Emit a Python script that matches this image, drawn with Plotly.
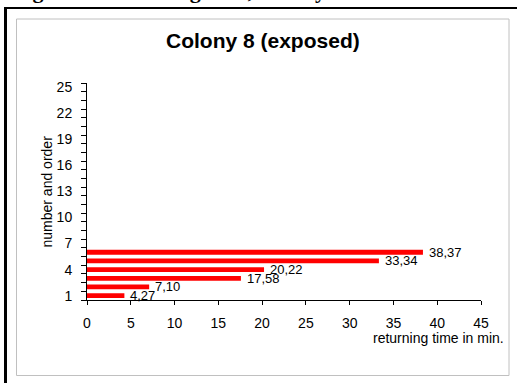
import plotly.graph_objects as go

# Returning time per bee (in order of return), Colony 8, exposed group
order = [1, 2, 3, 4, 5, 6]
minutes = [4.27, 7.10, 17.58, 20.22, 33.34, 38.37]
x_ticks = [0, 5, 10, 15, 20, 25, 30, 35, 40, 45]
y_ticks = [1, 4, 7, 10, 13, 16, 19, 22, 25]

labels = [f"{v:.2f}".replace(".", ",") for v in minutes]

W, H = 517, 383
L, R, T, B = 87, 481, 83, 300  # plot area in pixels


def px(x):
    return (x - L) / (R - L)


def py(y):
    return (B - y) / (B - T)


font = "Liberation Sans, Arial, sans-serif"

fig = go.Figure(
    go.Bar(
        x=minutes,
        y=order,
        orientation="h",
        width=0.55,
        marker=dict(color="#ff0000", line=dict(width=0)),
        hoverinfo="x+y",
    )
)

fig.update_layout(
    width=W,
    height=H,
    margin=dict(l=L, r=W - R, t=T, b=H - B, pad=0),
    paper_bgcolor="white",
    plot_bgcolor="white",
    showlegend=False,
    font=dict(family=font, color="black"),
    xaxis=dict(
        range=[0, 45],
        tickvals=x_ticks,
        ticks="outside",
        ticklen=4,
        tickcolor="black",
        showline=True,
        linecolor="black",
        linewidth=1,
        showgrid=False,
        zeroline=False,
        tickfont=dict(size=14, family=font),
        ticklabelstandoff=6,
    ),
    yaxis=dict(
        range=[0.5, 25.5],
        tickvals=y_ticks,
        ticks="outside",
        ticklen=5,
        tickcolor="rgba(0,0,0,0)",
        showline=True,
        linecolor="black",
        linewidth=1,
        showgrid=False,
        zeroline=False,
        tickfont=dict(size=14, family=font),
        ticklabelstandoff=6,
        minor=dict(tick0=0.5, dtick=1, ticks="outside", ticklen=5,
                   tickcolor="black", showgrid=False),
    ),
)

shapes = [
    # page frame
    dict(type="line", xref="paper", yref="paper",
         x0=px(4), x1=px(530), y0=py(8), y1=py(8),
         line=dict(color="black", width=2)),
    dict(type="line", xref="paper", yref="paper",
         x0=px(5.5), x1=px(5.5), y0=py(7), y1=py(400),
         line=dict(color="black", width=3)),
    # chart area border
    dict(type="rect", xref="paper", yref="paper",
         x0=px(16.5), x1=px(509), y0=py(19), y1=py(375.5),
         line=dict(color="#c0c0c0", width=1), fillcolor="rgba(0,0,0,0)",
         layer="below"),
]
fig.update_layout(shapes=shapes)

annotations = [
    dict(text="<b>Colony 8 (exposed)</b>", xref="paper", yref="paper",
         x=px(263), y=py(41), xanchor="center", yanchor="middle",
         showarrow=False, font=dict(family=font, size=21, color="black")),
    dict(text="returning time in min.", xref="paper", yref="paper",
         x=px(506), y=py(338), xanchor="right", yanchor="middle",
         showarrow=False, font=dict(family=font, size=14, color="black")),
    dict(text="number and order", xref="paper", yref="paper",
         x=px(46), y=py(191.5), xanchor="center", yanchor="middle",
         textangle=-90, showarrow=False,
         font=dict(family=font, size=14, color="black")),
    dict(text="<b>Figure 8: Returning time, Colony 8</b>", xref="paper",
         yref="paper", x=px(12), y=py(4), xanchor="left", yanchor="bottom",
         showarrow=False, borderpad=0,
         font=dict(family="Liberation Serif, Times New Roman, serif",
                   size=22, color="black")),
]

# value labels just past the end of each bar
for v, k, t in zip(minutes, order, labels):
    annotations.append(dict(
        text=t, x=v, y=k, xref="x", yref="y", xanchor="left",
        yanchor="middle", xshift=4, showarrow=False,
        font=dict(family=font, size=13, color="black")))

fig.update_layout(annotations=annotations)

fig.write_html("out.html")
